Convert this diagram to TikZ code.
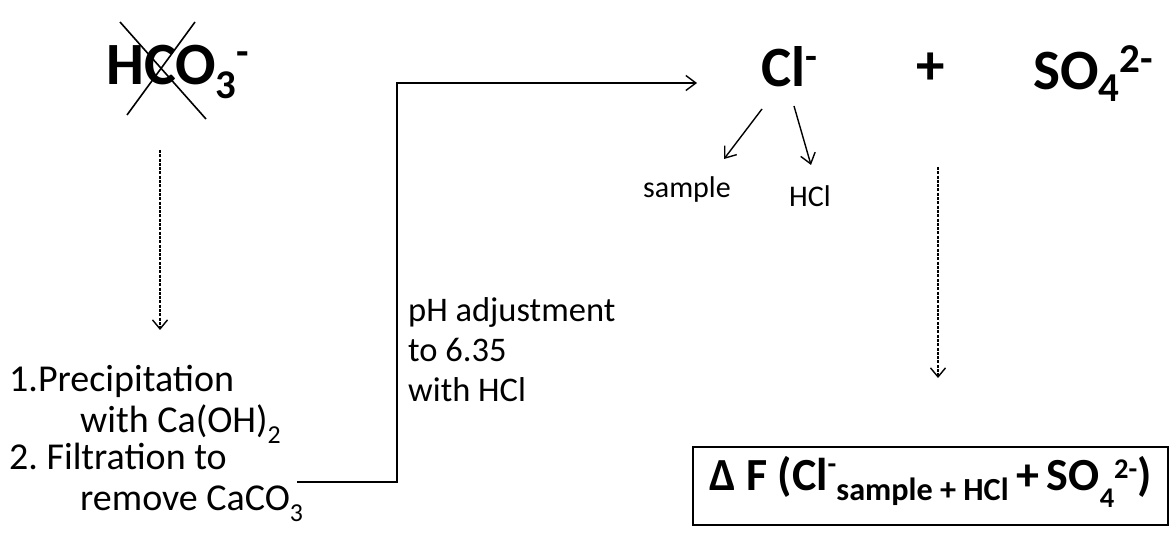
\documentclass[tikz,border=0pt]{standalone}
\usepackage{fontspec}
\setmainfont{Carlito}
\usepackage{graphicx}
\usetikzlibrary{arrows.meta}
\newcommand\chsub[3][0.68]{\raisebox{-#2em}{\scalebox{#1}{#3}}}
\newcommand\chsup[3][0.68]{\raisebox{#2em}{\scalebox{#1}{#3}}}
\frenchspacing
\begin{document}
\begin{tikzpicture}[x=1pt,y=-1pt,
  big/.style={font=\fontsize{60}{72}\selectfont\bfseries, inner sep=0pt, anchor=base west},
  mid/.style={font=\fontsize{57}{68}\selectfont\bfseries, inner sep=0pt, anchor=base west},
  txt/.style={font=\fontsize{38}{42}\selectfont, inner sep=0pt, anchor=base west},
  lab/.style={font=\fontsize{34.5}{40}\selectfont, inner sep=0pt, anchor=base west},
  small/.style={font=\fontsize{30}{34}\selectfont, inner sep=0pt},
  dasharrow/.style={line width=1.4pt, dash pattern=on 3pt off 1.3pt, -{Straight Barb[length=9pt,width=15pt]}},
  solidarrow/.style={line width=1.4pt, -{Straight Barb[length=10pt,width=15pt]}},
  cross/.style={line width=1.6pt}]
\useasboundingbox (0,0) rectangle (1171,537);
% HCO3- crossed out
\node[big] (hco) at (106,85) {HCO\chsub{0.22}{3}\chsup{0.33}{-}};
\draw[cross] (120,22) -- (206,119);
\draw[cross] (195,22) -- (127,115);
% dashed arrow down
\coordinate (d1s) at (160,150);
\coordinate (d1e) at (160,330);
\draw[dasharrow] (d1s) -- (d1e);
% steps
\node[txt] (s1) at (9,392) {1.Precipitation};
\node[txt] (s2) at (80,432) {with Ca(OH)\chsub{0.3}{2}};
\node[txt] (s3) at (9,470) {2. Filtration to};
\node[txt] (s4) at (80,510) {remove CaCO\chsub{0.3}{3}};
% elbow connector
\coordinate (e1) at (297,482);
\coordinate (e2) at (697,83);
\draw[solidarrow] (e1) -- ++(100,0) |- (e2);
\node[lab] (p1) at (408,322) {pH adjustment};
\node[lab] (p2) at (408,362) {to 6.35};
\node[lab] (p3) at (408,402) {with HCl};
% Cl- + SO4 2-
\node[mid] (cl) at (761,87) {Cl\chsup{0.3}{-}};
\node[mid, anchor=center] (plus) at (931,69) {+};
\node[mid] (so4) at (1033,90) {SO\chsub[0.72]{0.21}{4}\chsup[0.72]{0.3}{2-}};
% branches
\coordinate (c1) at (762,109);
\coordinate (c2) at (724,159);
\coordinate (c3) at (794,106);
\coordinate (c4) at (811,165);
\draw[solidarrow] (c1) -- (c2);
\draw[solidarrow] (c3) -- (c4);
\node[small, anchor=base east] (sample) at (731,198) {sample};
\node[small, anchor=base west] (hcl) at (789,207) {HCl};
% dashed arrow 2
\coordinate (d2s) at (938,167);
\coordinate (d2e) at (938,378);
\draw[dasharrow] (d2s) -- (d2e);
% result box
\node[draw, line width=2.4pt, minimum width=475pt, minimum height=78pt, inner sep=0pt,
      text height=30pt, text depth=22pt,
      font=\fontsize{46}{56}\selectfont\bfseries] (box) at (930.5,486)
  {Δ F (Cl\chsup[0.62]{0.36}{-}\chsub[0.7]{0.22}{sample + HCl}\,+\,SO\chsub[0.62]{0.39}{4}\chsup[0.62]{0.26}{2-})};
\end{tikzpicture}
\end{document}
